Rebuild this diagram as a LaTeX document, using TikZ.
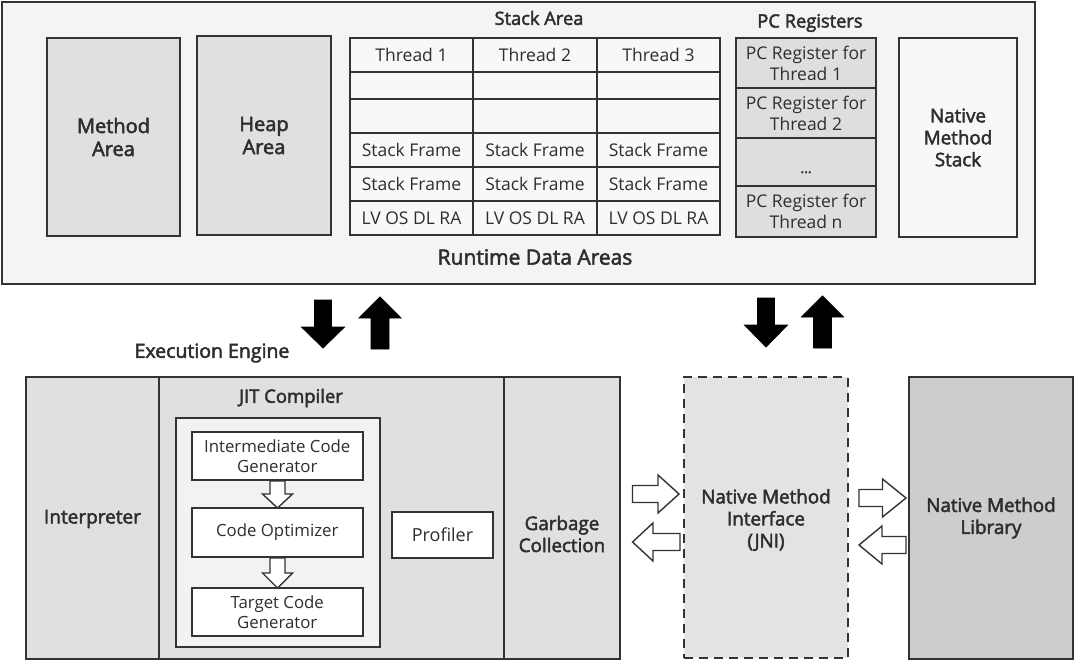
\documentclass[tikz,border=0pt]{standalone}
\usepackage{fontspec}
\setmainfont{Open Sans}
\newfontfamily\semib[FakeBold=2.5]{Open Sans}
\definecolor{edge}{HTML}{333333}
\definecolor{txt}{HTML}{2E2E2E}
\definecolor{bgA}{HTML}{F4F4F4}
\definecolor{grayA}{HTML}{E0E0E0}
\definecolor{cellW}{HTML}{F8F8F8}
\definecolor{pcG}{HTML}{DEDEDE}
\definecolor{jitIn}{HTML}{F2F2F2}
\definecolor{jniG}{HTML}{E3E3E3}
\definecolor{libG}{HTML}{CDCDCD}
\newcommand{\rbox}[7]{\node[#1, minimum width={#4-#3}, minimum height={#6-#5}] (#2) at ({(#3+#4)/2},{(#5+#6)/2}) {#7};}
\newcommand{\varrowshape}[7]{\draw[#7] (#1-#5,#2) -- (#1+#5,#2) -- (#1+#5,#4) -- (#1+#6,#4) -- (#1,#3) -- (#1-#6,#4) -- (#1-#5,#4) -- cycle;}
\newcommand{\harrowshape}[5]{\draw[#5] (#1,#3-8.5) -- (#4,#3-8.5) -- (#4,#3-19) -- (#2,#3) -- (#4,#3+19) -- (#4,#3+8.5) -- (#1,#3+8.5) -- cycle;}
\begin{document}
\begin{tikzpicture}[x=1pt,y=-1pt,
  box/.style={draw=edge, line width=2.2pt, inner sep=0pt, align=center, text=txt},
  big/.style={box, font=\semib\fontsize{18.8}{22}\selectfont},
  cellbox/.style={box, fill=cellW, font=\fontsize{17.5}{20}\selectfont},
  pcbox/.style={box, fill=pcG, font=\fontsize{17.5}{21}\selectfont},
  inbox/.style={box, fill=white, line width=2pt, font=\fontsize{16.8}{20}\selectfont},
  lbl/.style={inner sep=0pt, text=txt, align=center, font=\semib\fontsize{18.3}{20}\selectfont},
  solidarrow/.style={fill=black, draw=black, line width=0.8pt, line join=miter},
  hollow/.style={fill=white, draw=edge, line width=1.4pt, line join=miter}]
\useasboundingbox (0,0) rectangle (1077,662);
\fill[white] (0,0) rectangle (1077,662);
% Runtime data areas
\rbox{box, fill=bgA}{rda}{2}{1035}{2}{284}{}
\rbox{big, fill=grayA, font=\semib\fontsize{20}{23}\selectfont}{method}{47}{180}{38}{236}{Method\\Area}
\rbox{big, fill=grayA, font=\semib\fontsize{20}{23}\selectfont}{heap}{197}{331}{36}{235}{Heap\\Area}
\node[lbl] (stacklbl) at (539,18) {Stack Area};
\rbox{cellbox}{t1a}{350}{473}{38}{72}{Thread 1}
\rbox{cellbox}{t1b}{350}{473}{72}{99}{}
\rbox{cellbox}{t1c}{350}{473}{99}{133}{}
\rbox{cellbox}{t1d}{350}{473}{133}{167}{Stack Frame}
\rbox{cellbox}{t1e}{350}{473}{167}{201}{Stack Frame}
\rbox{cellbox}{t1f}{350}{473}{201}{235}{LV OS DL RA}
\rbox{cellbox}{t2a}{473}{597}{38}{72}{Thread 2}
\rbox{cellbox}{t2b}{473}{597}{72}{99}{}
\rbox{cellbox}{t2c}{473}{597}{99}{133}{}
\rbox{cellbox}{t2d}{473}{597}{133}{167}{Stack Frame}
\rbox{cellbox}{t2e}{473}{597}{167}{201}{Stack Frame}
\rbox{cellbox}{t2f}{473}{597}{201}{235}{LV OS DL RA}
\rbox{cellbox}{t3a}{597}{720}{38}{72}{Thread 3}
\rbox{cellbox}{t3b}{597}{720}{72}{99}{}
\rbox{cellbox}{t3c}{597}{720}{99}{133}{}
\rbox{cellbox}{t3d}{597}{720}{133}{167}{Stack Frame}
\rbox{cellbox}{t3e}{597}{720}{167}{201}{Stack Frame}
\rbox{cellbox}{t3f}{597}{720}{201}{235}{LV OS DL RA}
\node[lbl] (pclbl) at (810,23) {PC Registers};
\rbox{pcbox}{pc1}{736}{876}{38}{88}{PC Register for\\Thread 1}
\rbox{pcbox}{pc2}{736}{876}{88}{138}{PC Register for\\Thread 2}
\rbox{pcbox}{pc3}{736}{876}{138}{186}{}
\node[lbl, font=\semib\fontsize{14}{16}\selectfont, anchor=base] (pcdots) at (806,173) {...};
\rbox{pcbox}{pc4}{736}{876}{186}{237}{PC Register for\\Thread n}
\rbox{big, fill=cellW}{nms}{899}{1017}{38}{237}{Native\\Method\\Stack}
\node[lbl, font=\semib\fontsize{21}{24}\selectfont] (rdalbl) at (535,257) {Runtime Data Areas};
% solid arrows
\varrowshape{323}{300}{348}{327}{8.5}{21.5}{solidarrow}
\varrowshape{380}{349}{297}{318}{9}{21}{solidarrow}
\varrowshape{766}{298}{347}{325}{8.5}{21.5}{solidarrow}
\varrowshape{822.5}{348}{296}{317}{9}{21}{solidarrow}
% Execution engine
\node[lbl, font=\semib\fontsize{19.5}{22}\selectfont] (eelbl) at (212,353) {Execution Engine};
\rbox{box, fill=grayA}{interp}{26}{159}{377}{659}{}
\node[lbl, font=\semib\fontsize{19}{22}\selectfont] (interptxt) at (92.5,519) {Interpreter};
\rbox{box, fill=grayA}{jit}{159}{504}{377}{659}{}
\rbox{box, fill=grayA}{gc}{504}{620}{377}{659}{}
\node[lbl, font=\semib\fontsize{18.8}{22}\selectfont] (gctxt) at (562,534) {Garbage\\Collection};
\node[lbl, font=\semib\fontsize{18.5}{22}\selectfont] (jitlbl) at (291,398) {JIT Compiler};
\rbox{box, fill=jitIn, line width=2pt}{jitin}{176}{380}{418}{647}{}
\rbox{inbox}{icg}{191.5}{363}{432}{480}{Intermediate Code\\Generator}
\rbox{inbox}{opt}{191.5}{363}{508}{557}{Code Optimizer}
\rbox{inbox}{tcg}{191.5}{363}{588}{636}{Target Code\\Generator}
\rbox{inbox, font=\fontsize{18}{20}\selectfont}{prof}{392}{493}{512}{558}{Profiler}
\varrowshape{277.5}{481}{508}{494}{7.5}{15}{hollow}
\varrowshape{277.5}{558}{588}{573}{7.5}{15}{hollow}
% JNI and library
\rbox{box, fill=jniG, dashed, dash pattern=on 9pt off 6pt, line width=2pt}{jni}{684}{847.5}{377}{658}{}
\node[lbl, font=\semib\fontsize{18.8}{22}\selectfont] (jnitxt) at (766,520) {Native Method\\Interface\\(JNI)};
\rbox{big, fill=libG}{nml}{909}{1073}{377}{659}{Native Method\\Library}
\harrowshape{632.5}{679}{494}{658}{hollow}
\harrowshape{680}{632.5}{542}{653}{hollow}
\harrowshape{859}{906}{498}{882.5}{hollow}
\harrowshape{906}{859}{545}{882}{hollow}
\end{tikzpicture}
\end{document}
